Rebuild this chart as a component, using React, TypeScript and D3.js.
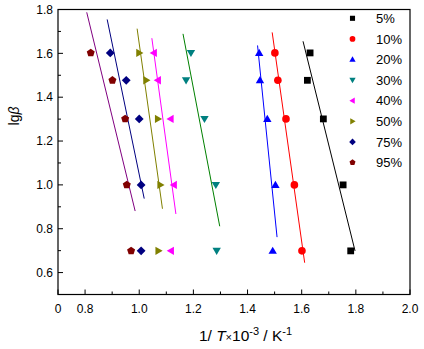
import React from "react";
import * as d3 from "d3";

const lgBeta = [1.602, 1.477, 1.301, 1.0, 0.699];
const seriesNames = ["5%", "10%", "20%", "30%", "40%", "50%", "75%", "95%"];
const s5 = [1.631, 1.621, 1.68, 1.753, 1.781];
const s10 = [1.501, 1.512, 1.542, 1.573, 1.601];
const s20 = [1.443, 1.446, 1.473, 1.503, 1.493];
const s30 = [1.191, 1.173, 1.241, 1.283, 1.286];
const s40 = [1.054, 1.069, 1.116, 1.128, 1.117];
const s50 = [1.0, 1.026, 1.069, 1.078, 1.071];
const s75 = [0.893, 0.952, 1.0, 1.007, 1.007];
const s95 = [0.821, 0.901, 0.948, 0.954, 0.97];
const seriesX = [s5, s10, s20, s30, s40, s50, s75, s95];
const markerColors = ["#000000", "#ff0000", "#0000ff", "#008080", "#ff00ff", "#808000", "#000080", "#800000"];
const lineColors = ["#000000", "#ff0000", "#0000ff", "#008000", "#ff00ff", "#808000", "#000080", "#800080"];
const markerShapes = ["square", "circle", "up", "down", "left", "right", "diamond", "pentagon"];

const xTickValues = [0.7, 0.8, 1.0, 1.2, 1.4, 1.6, 1.8, 2.0];
const xTickLabels = ["0", "0.8", "1.0", "1.2", "1.4", "1.6", "1.8", "2.0"];
const xMinorTicks = [0.9, 1.1, 1.3, 1.5, 1.7, 1.9];
const yTickValues = [0.6, 0.8, 1.0, 1.2, 1.4, 1.6, 1.8];
const yTickLabels = ["0.6", "0.8", "1.0", "1.2", "1.4", "1.6", "1.8"];
const yMinorTicks = [0.7, 0.9, 1.1, 1.3, 1.5, 1.7];

const W = 424, H = 349;
const L = 58, R = 410, T = 9.5, B = 294.5;
const FONT = "'Liberation Sans', Arial, sans-serif";

function markerPath(shape: string, r: number): string {
  switch (shape) {
    case "square":
      return `M${-r * 0.85},${-r * 0.85}H${r * 0.85}V${r * 0.85}H${-r * 0.85}Z`;
    case "circle":
      return `M${r * 0.95},0A${r * 0.95},${r * 0.95} 0 1,1 ${-r * 0.95},0A${r * 0.95},${r * 0.95} 0 1,1 ${r * 0.95},0Z`;
    case "up":
      return `M0,${-r * 1.05}L${r * 1.05},${r * 0.75}L${-r * 1.05},${r * 0.75}Z`;
    case "down":
      return `M0,${r * 1.05}L${r * 1.05},${-r * 0.75}L${-r * 1.05},${-r * 0.75}Z`;
    case "left":
      return `M${-r * 1.05},0L${r * 0.75},${-r * 1.05}L${r * 0.75},${r * 1.05}Z`;
    case "right":
      return `M${r * 1.05},0L${-r * 0.75},${-r * 1.05}L${-r * 0.75},${r * 1.05}Z`;
    case "diamond":
      return `M0,${-r * 1.1}L${r * 1.1},0L0,${r * 1.1}L${-r * 1.1},0Z`;
    case "pentagon": {
      const pts = d3.range(5).map((i) => {
        const a = -Math.PI / 2 + (i * 2 * Math.PI) / 5;
        return [Math.cos(a) * r * 1.05, Math.sin(a) * r * 1.05];
      });
      return "M" + pts.map((p) => p.join(",")).join("L") + "Z";
    }
  }
  return "";
}

function Marker({ shape, color, x, y, s }: any) {
  return <path d={markerPath(shape, s)} transform={`translate(${x},${y})`} fill={color} stroke="none" />;
}

export default function App() {
  const x = d3.scaleLinear().domain([0.7, 2.0]).range([L, R]);
  const y = d3.scaleLinear().domain([0.5, 1.8]).range([B, T]);

  const fits = seriesX.map((xs) => {
    const mx = d3.mean(xs)!;
    const my = d3.mean(lgBeta)!;
    let sxy = 0, sxx = 0;
    xs.forEach((v, i) => {
      sxy += (v - mx) * (lgBeta[i] - my);
      sxx += (v - mx) * (v - mx);
    });
    const slope = sxy / sxx;
    const icpt = my - slope * mx;
    const [lo, hi] = d3.extent(xs) as [number, number];
    const pad = (hi - lo) * 0.1;
    const x0 = lo - pad, x1 = hi + pad;
    return [
      [x0, icpt + slope * x0],
      [x1, icpt + slope * x1],
    ];
  });
  const lineGen = d3.line<number[]>().x((d) => x(d[0])).y((d) => y(d[1]));

  return (
    <svg width={W} height={H} style={{ position: "absolute", left: 0, top: 0, background: "#fff" }} fontFamily={FONT}>
      <rect x={0} y={0} width={W} height={H} fill="#fff" />
      {fits.map((f, i) => (
        <path key={"l" + i} d={lineGen(f) || ""} stroke={lineColors[i]} strokeWidth={1} fill="none" />
      ))}
      {seriesX.map((xs, i) =>
        xs.map((v, j) => (
          <Marker key={`m${i}-${j}`} shape={markerShapes[i]} color={markerColors[i]} x={x(v)} y={y(lgBeta[j])} s={4} />
        ))
      )}
      <rect x={L} y={T} width={R - L} height={B - T} fill="none" stroke="#000" strokeWidth={1.2} />
      {xTickValues.map((v, i) => (
        <g key={"xt" + i}>
          <line x1={x(v)} x2={x(v)} y1={B} y2={B - 5} stroke="#000" strokeWidth={1} />
          <text x={x(v)} y={B + 18} fontSize={12} textAnchor="middle" fill="#000">
            {xTickLabels[i]}
          </text>
        </g>
      ))}
      {xMinorTicks.map((v, i) => (
        <line key={"xm" + i} x1={x(v)} x2={x(v)} y1={B} y2={B - 3} stroke="#000" strokeWidth={1} />
      ))}
      {yTickValues.map((v, i) => (
        <g key={"yt" + i}>
          <line x1={L} x2={L + 5} y1={y(v)} y2={y(v)} stroke="#000" strokeWidth={1} />
          <text x={L - 5} y={y(v) + 4.3} fontSize={12} textAnchor="end" fill="#000">
            {yTickLabels[i]}
          </text>
        </g>
      ))}
      {yMinorTicks.map((v, i) => (
        <line key={"ym" + i} x1={L} x2={L + 3} y1={y(v)} y2={y(v)} stroke="#000" strokeWidth={1} />
      ))}
      <text x={245.5} y={341} fontSize={15.5} textAnchor="middle" fill="#000">
        1/ <tspan fontStyle="italic">T</tspan>
        <tspan fontSize={11}>×</tspan>10<tspan fontSize={11} dy={-6}>-3</tspan>
        <tspan dy={6}> / K</tspan>
        <tspan fontSize={11} dy={-6}>-1</tspan>
      </text>
      <text transform={`translate(19,116) rotate(-90)`} fontSize={14} textAnchor="middle" fill="#000">
        lg<tspan fontStyle="italic">β</tspan>
      </text>
      {seriesNames.map((n, i) => {
        const cy = 18.3 + i * 20.6;
        return (
          <g key={"lg" + i}>
            <Marker shape={markerShapes[i]} color={markerColors[i]} x={352.5} y={cy} s={3} />
            <text x={376} y={cy + 4.7} fontSize={13} fill="#000">
              {n}
            </text>
          </g>
        );
      })}
    </svg>
  );
}
